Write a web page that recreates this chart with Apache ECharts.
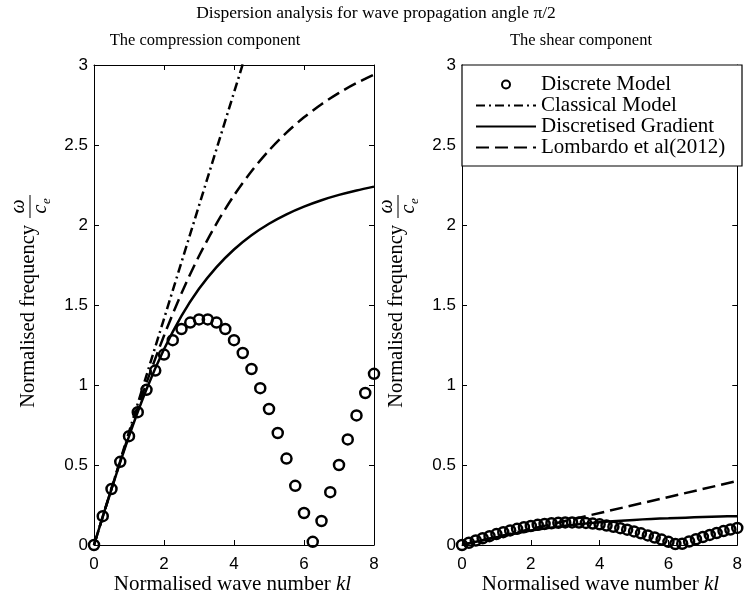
<!DOCTYPE html>
<html>
<head>
<meta charset="utf-8">
<script src="https://cdn.jsdelivr.net/npm/echarts@6/dist/echarts.min.js"></script>
<style>
html,body{margin:0;padding:0;background:#fff;}
#chart{width:745px;height:601px;}
</style>
</head>
<body>
<div id="chart"></div>
<script>
// ---------------- data ----------------
var titleText = 'Dispersion analysis for wave propagation angle \u03c0/2';
var leftTitle = 'The compression component';
var rightTitle = 'The shear component';
var xLabel = 'Normalised wave number';
var xLabelVar = 'kl';
var yLabel = 'Normalised frequency';
var seriesNames = ['Discrete Model', 'Classical Model', 'Discretised Gradient', 'Lombardo et al(2012)'];
var xTicks = [0, 2, 4, 6, 8];
var yTicks = [0, 0.5, 1, 1.5, 2, 2.5, 3];

// compression component
var kDiscreteP = [0,0.25,0.5,0.75,1,1.25,1.5,1.75,2,2.25,2.5,2.75,3,3.25,3.5,3.75,4,4.25,4.5,4.75,5,5.25,5.5,5.75,6,6.25,6.5,6.75,7,7.25,7.5,7.75,8];
var discreteP = [0,0.18,0.35,0.52,0.68,0.83,0.97,1.09,1.19,1.28,1.35,1.39,1.41,1.41,1.39,1.35,1.28,1.20,1.10,0.98,0.85,0.70,0.54,0.37,0.20,0.02,0.15,0.33,0.50,0.66,0.81,0.95,1.07];
var kClassicalP = [0, 2, 4, 6, 8];
var classicalP = [0, 1.414, 2.828, 4.243, 5.657];
var kCurve = [0,0.5,1,1.5,2,2.5,3,3.5,4,4.5,5,5.5,6,6.5,7,7.5,8];
var gradientP = [0,0.350,0.679,0.973,1.223,1.432,1.601,1.737,1.847,1.936,2.008,2.067,2.115,2.155,2.188,2.216,2.240];
var lombardoP = [0,0.352,0.693,1.014,1.308,1.573,1.806,2.009,2.185,2.336,2.466,2.577,2.673,2.755,2.826,2.887,2.940];

// shear component
var kDiscreteS = [0,0.2,0.4,0.6,0.8,1,1.2,1.4,1.6,1.8,2,2.2,2.4,2.6,2.8,3,3.2,3.4,3.6,3.8,4,4.2,4.4,4.6,4.8,5,5.2,5.4,5.6,5.8,6,6.2,6.4,6.6,6.8,7,7.2,7.4,7.6,7.8,8];
var discreteS = [0,0.014,0.028,0.042,0.055,0.068,0.080,0.091,0.101,0.111,0.119,0.126,0.132,0.136,0.139,0.141,0.141,0.140,0.138,0.134,0.129,0.122,0.114,0.105,0.096,0.085,0.073,0.060,0.047,0.034,0.020,0.006,0.008,0.022,0.036,0.050,0.063,0.075,0.087,0.097,0.107];
var gradientS = [0,0.025,0.049,0.070,0.090,0.106,0.120,0.132,0.142,0.150,0.157,0.163,0.167,0.171,0.175,0.178,0.180];
var kLombardoS = [0, 8];
var lombardoS = [0, 0.4];

function pairs(xs, ys){ return xs.map(function(x,i){ return [x, ys[i]]; }); }

// ---------------- styles ----------------
var SERIF = 'Liberation Serif';
var SANS = 'Liberation Sans';
var FAM = '"Liberation Serif", serif';
var LW = 2.5;
var dashDot = [9, 4, 2, 4];
var dashed = [13, 6];

var grids = [
  {left: 94, right: 371, top: 65, bottom: 56},
  {left: 462, right: 3, top: 65, bottom: 56}
];

function makeX(gi, pos){
  return {
    type: 'value', gridIndex: gi, min: 0, max: 8, interval: 2, position: pos,
    axisLine: {show: true, onZero: false, lineStyle: {color: '#000', width: 1}},
    axisTick: {show: true, inside: true, length: 5, lineStyle: {color: '#000', width: 1}},
    axisLabel: {show: pos === 'bottom', fontFamily: SANS, fontSize: 17, color: '#000', margin: 11},
    splitLine: {show: false}
  };
}
function makeY(gi, pos){
  return {
    type: 'value', gridIndex: gi, min: 0, max: 3, interval: 0.5, position: pos,
    axisLine: {show: true, onZero: false, lineStyle: {color: '#000', width: 1}},
    axisTick: {show: true, inside: true, length: 5, lineStyle: {color: '#000', width: 1}},
    axisLabel: {show: pos === 'left', fontFamily: SANS, fontSize: 17, color: '#000', margin: 6},
    splitLine: {show: false}
  };
}

function yLabelGroup(cx){
  return {
    type: 'group', x: cx, y: 305, rotation: Math.PI / 2,
    children: [
      {type: 'text', x: 80, y: -1, style: {text: yLabel, font: '20.5px ' + FAM,
        fill: '#000', textAlign: 'right', textVerticalAlign: 'middle'}},
      {type: 'line', shape: {x1: 87, y1: 0, x2: 110, y2: 0}, style: {stroke: '#000', lineWidth: 1}},
      {type: 'text', x: 98.5, y: -11, style: {text: '\u03c9', font: 'italic 20px ' + FAM, fill: '#000', textAlign: 'center', textVerticalAlign: 'middle'}},
      {type: 'text', x: 96, y: 11, style: {text: 'c', font: 'italic 20px ' + FAM, fill: '#000', textAlign: 'center', textVerticalAlign: 'middle'}},
      {type: 'text', x: 104, y: 17, style: {text: 'e', font: 'italic 13px ' + FAM, fill: '#000', textAlign: 'center', textVerticalAlign: 'middle'}}
    ]
  };
}
function xLabelTexts(cx){
  return [
    {type: 'text', x: cx + 102, y: 584, style: {text: xLabel + ' ', font: '21px ' + FAM, fill: '#000', textAlign: 'right', textVerticalAlign: 'middle'}},
    {type: 'text', x: cx + 102, y: 584, style: {text: xLabelVar, font: 'italic 21px ' + FAM, fill: '#000', textAlign: 'left', textVerticalAlign: 'middle'}}
  ];
}

var scatterStyle = {color: 'transparent', borderColor: '#000', borderWidth: LW, opacity: 1};
var hiddenSym = {color: 'transparent', borderColor: 'transparent', borderWidth: 0};

var option = {
  animation: false,
  backgroundColor: '#fff',
  grid: grids,
  xAxis: [makeX(0, 'bottom'), makeX(0, 'top'), makeX(1, 'bottom'), makeX(1, 'top')],
  yAxis: [makeY(0, 'left'), makeY(0, 'right'), makeY(1, 'left'), makeY(1, 'right')],
  legend: {
    orient: 'vertical', left: 470, top: 69, itemWidth: 60, itemHeight: 8, itemGap: 0,
    data: seriesNames,
    textStyle: {fontFamily: SERIF, fontSize: 21, color: '#000', lineHeight: 20},
    selectedMode: false, z: 10
  },
  graphic: [
    {type: 'text', x: 376, y: 13, style: {text: titleText, fontFamily: SERIF, fontSize: 17.5, fill: '#000', textAlign: 'center', textVerticalAlign: 'middle'}},
    {type: 'text', x: 205, y: 41, style: {text: leftTitle, fontFamily: SERIF, fontSize: 16.5, fill: '#000', textAlign: 'center', textVerticalAlign: 'middle'}},
    {type: 'text', x: 581, y: 41, style: {text: rightTitle, fontFamily: SERIF, fontSize: 16.5, fill: '#000', textAlign: 'center', textVerticalAlign: 'middle'}},
    yLabelGroup(30),
    yLabelGroup(398),
    {type: 'rect', z: 5, shape: {x: 462, y: 65, width: 280, height: 101}, style: {fill: '#fff', stroke: '#000', lineWidth: 1.2}}
  ].concat(xLabelTexts(234)).concat(xLabelTexts(602)),
  series: [
    {name: seriesNames[0], type: 'scatter', xAxisIndex: 0, yAxisIndex: 0, symbol: 'circle', symbolSize: 10,
      itemStyle: scatterStyle, data: pairs(kDiscreteP, discreteP), z: 3},
    {name: seriesNames[1], type: 'line', xAxisIndex: 0, yAxisIndex: 0, symbol: 'none', clip: true, itemStyle: hiddenSym,
      lineStyle: {color: '#000', width: LW, type: dashDot}, data: pairs(kClassicalP, classicalP)},
    {name: seriesNames[2], type: 'line', xAxisIndex: 0, yAxisIndex: 0, symbol: 'none', smooth: 0.3, itemStyle: hiddenSym,
      lineStyle: {color: '#000', width: LW, type: 'solid'}, data: pairs(kCurve, gradientP)},
    {name: seriesNames[3], type: 'line', xAxisIndex: 0, yAxisIndex: 0, symbol: 'none', smooth: 0.3, itemStyle: hiddenSym,
      lineStyle: {color: '#000', width: LW, type: dashed}, data: pairs(kCurve, lombardoP)},
    {name: seriesNames[0], type: 'scatter', xAxisIndex: 2, yAxisIndex: 2, symbol: 'circle', symbolSize: 10,
      itemStyle: scatterStyle, data: pairs(kDiscreteS, discreteS), z: 3},
    {name: seriesNames[2], type: 'line', xAxisIndex: 2, yAxisIndex: 2, symbol: 'none', smooth: 0.3, itemStyle: hiddenSym,
      lineStyle: {color: '#000', width: LW, type: 'solid'}, data: pairs(kCurve, gradientS)},
    {name: seriesNames[3], type: 'line', xAxisIndex: 2, yAxisIndex: 2, symbol: 'none', itemStyle: hiddenSym,
      lineStyle: {color: '#000', width: LW, type: dashed}, data: pairs(kLombardoS, lombardoS)}
  ]
};

var chart = echarts.init(document.getElementById('chart'), null, {renderer: 'canvas'});
chart.setOption(option);
</script>
</body>
</html>
